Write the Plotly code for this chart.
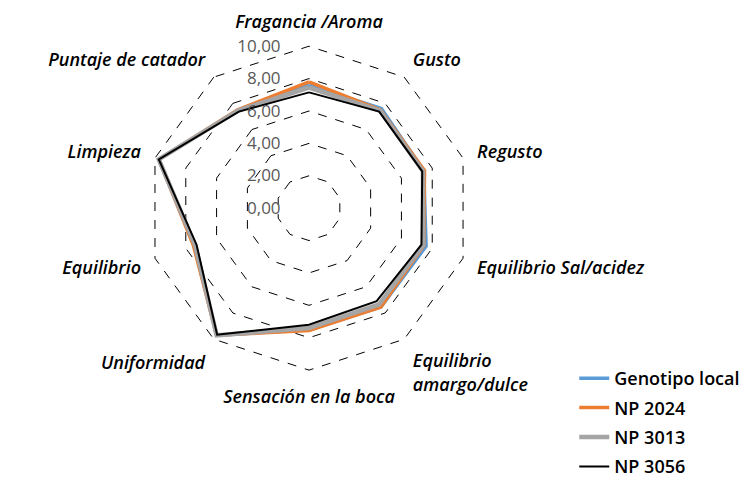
import plotly.graph_objects as go

# categories (clockwise from top)
atributos = ['Fragancia /Aroma', 'Gusto', 'Regusto', 'Equilibrio Sal/acidez',
             'Equilibrio<br>amargo/dulce', 'Sensación en la boca', 'Uniformidad',
             'Equilibrio', 'Limpieza', 'Puntaje de catador']

genotipo_local = [7.60, 7.60, 7.45, 7.60, 7.55, 7.50, 9.70, 7.45, 9.75, 7.45]
np_2024 = [7.80, 7.50, 7.50, 7.45, 7.55, 7.55, 9.70, 7.50, 9.75, 7.50]
np_3013 = [7.45, 7.45, 7.40, 7.40, 7.35, 7.40, 9.70, 7.40, 9.75, 7.45]
np_3056 = [7.15, 7.37, 7.35, 7.30, 7.10, 7.20, 9.65, 7.30, 9.75, 7.37]

series = [
    ('Genotipo local', genotipo_local, '#5B9BD5', 3.5),
    ('NP 2024', np_2024, '#ED7D31', 3.5),
    ('NP 3013', np_3013, '#A5A5A5', 4.5),
    ('NP 3056', np_3056, '#000000', 2),
]

fig = go.Figure()
for name, vals, color, width in series:
    fig.add_trace(go.Scatterpolar(
        r=vals + vals[:1],
        theta=atributos + atributos[:1],
        mode='lines',
        name=name,
        legendgroup=name,
        line=dict(color=color, width=width),
    ))

fig.update_layout(
    width=750, height=477,
    margin=dict(l=0, r=0, t=0, b=0),
    paper_bgcolor='white',
    separators=',.',
    font=dict(family='Open Sans', color='black'),
    polar=dict(
        domain=dict(x=[0.1747, 0.6280], y=[0.2075, 0.9203]),
        bgcolor='white',
        gridshape='linear',
        angularaxis=dict(
            rotation=90,
            direction='clockwise',
            showgrid=False,
            showline=False,
            ticks='outside',
            ticklen=9,
            tickcolor='rgba(0,0,0,0)',
            tickfont=dict(size=18, style='italic', weight=600, color='black'),
        ),
        radialaxis=dict(
            range=[0, 10.1],
            tickvals=[0, 2, 4, 6, 8, 10],
            angle=90,
            tickangle=90,
            side='counterclockwise',
            tickformat='.2f',
            showline=False,
            ticks='outside',
            ticklen=22,
            tickcolor='rgba(0,0,0,0)',
            gridcolor='black',
            griddash='dash',
            gridwidth=1.2,
            tickfont=dict(size=17, color='#595959'),
        ),
    ),
    legend=dict(
        x=0.755, y=0.233, xanchor='left', yanchor='top',
        traceorder='grouped',
        tracegroupgap=3,
        font=dict(size=18, weight=600, color='black'),
        bgcolor='rgba(0,0,0,0)',
    ),
)

fig.write_html('out.html')
